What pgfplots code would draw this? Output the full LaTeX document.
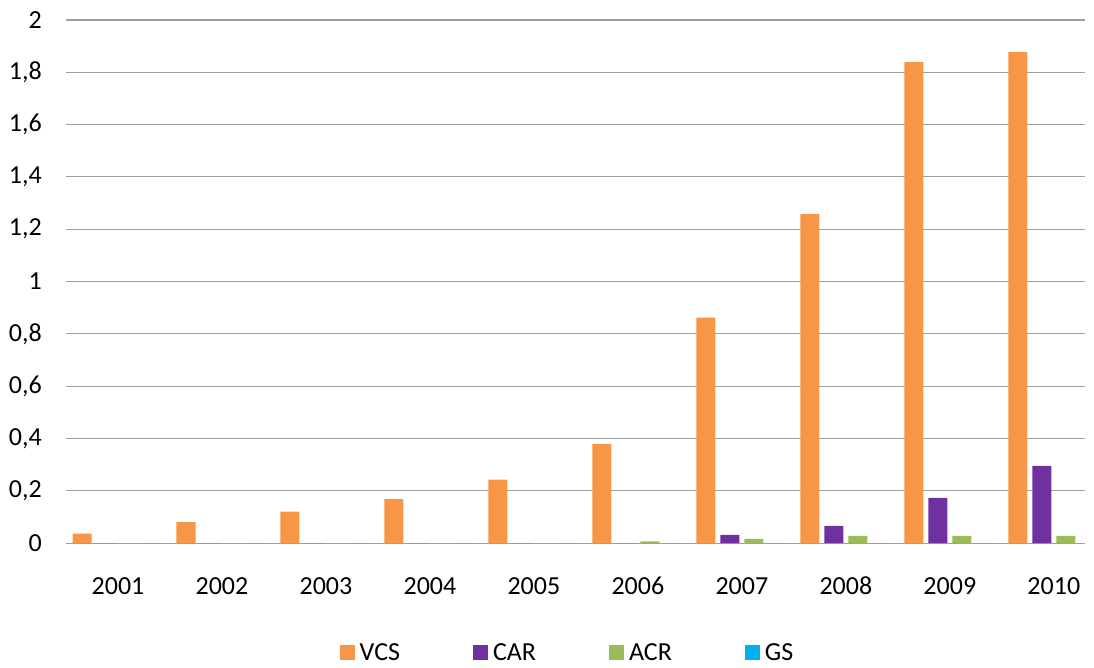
\documentclass[border=0pt]{standalone}
\usepackage{pgfplots}
\pgfplotsset{compat=1.18}
\usepackage{fontspec}
\setmainfont{Carlito}

\definecolor{vcs}{RGB}{247,150,70}
\definecolor{car}{RGB}{112,48,160}
\definecolor{acr}{RGB}{155,187,89}
\definecolor{gs}{RGB}{0,176,240}
\definecolor{gridgray}{RGB}{160,160,160}

\begin{document}
\begin{tikzpicture}[font=\fontsize{26}{31}\selectfont]
    \begin{axis}[
        scale only axis,
        width            = 1019pt,
        height           = 523pt,
        ybar,
        bar width        = 0.183,
        xmin             = -0.5,
        xmax             = 9.3,
        ymin             = 0,
        ymax             = 2,
        xtick            = {0,...,9},
        xticklabels      = {2001,2002,2003,2004,2005,2006,2007,2008,2009,2010},
        ytick            = {0,0.2,0.4,0.6,0.8,1,1.2,1.4,1.6,1.8,2},
        ymajorgrids,
        grid style       = {draw=gridgray, line width=1pt},
        axis lines*      = left,
        y axis line style = {draw=none},
        x axis line style = {draw=gridgray, line width=1pt, -},
        major tick length = 0pt,
        tick style       = {draw=none},
        /pgf/number format/assume math mode = true,
        /pgf/number format/use comma,
        /pgf/number format/fixed,
        /pgf/number format/precision = 1,
        yticklabel style = {anchor=east, inner sep=0pt, xshift=-24pt},
        xticklabel style = {anchor=north, inner sep=0pt, yshift=-34pt},
        legend style     = {at={(0.5,-0.21)}, anchor=center, xshift=-8pt,
                            draw=none, fill=none,
                            /tikz/every odd column/.append style={column sep=3pt},
                            /tikz/every even column/.append style={column sep=71pt}},
        legend columns   = 4,
        legend image code/.code = {\fill[#1] (0pt,-7.5pt) rectangle (15pt,7.5pt);},
        clip             = false]

        \addplot[fill=vcs, draw=none, bar shift=-0.346] coordinates {
            (0,0.036) (1,0.080) (2,0.120) (3,0.168) (4,0.242)
            (5,0.378) (6,0.862) (7,1.258) (8,1.839) (9,1.877)};
        \addplot[fill=car, draw=none, bar shift=-0.115] coordinates {
            (0,0) (1,0) (2,0) (3,0) (4,0)
            (5,0) (6,0.031) (7,0.066) (8,0.173) (9,0.295)};
        \addplot[fill=acr, draw=none, bar shift=0.115] coordinates {
            (0,0) (1,0) (2,0) (3,0) (4,0)
            (5,0.006) (6,0.016) (7,0.027) (8,0.027) (9,0.027)};
        % GS is zero throughout; the 2010 bar would fall past the plot edge
        \addplot[fill=gs, draw=none, bar shift=0.346] coordinates {
            (0,0) (1,0) (2,0) (3,0) (4,0)
            (5,0) (6,0) (7,0) (8,0)};
        \legend{VCS, CAR, ACR, GS}
    \end{axis}
    \path ([shift={(-66pt,-124pt)}]current axis.south west)
        rectangle ([shift={(9pt,20pt)}]current axis.north east);
\end{tikzpicture}
\end{document}
